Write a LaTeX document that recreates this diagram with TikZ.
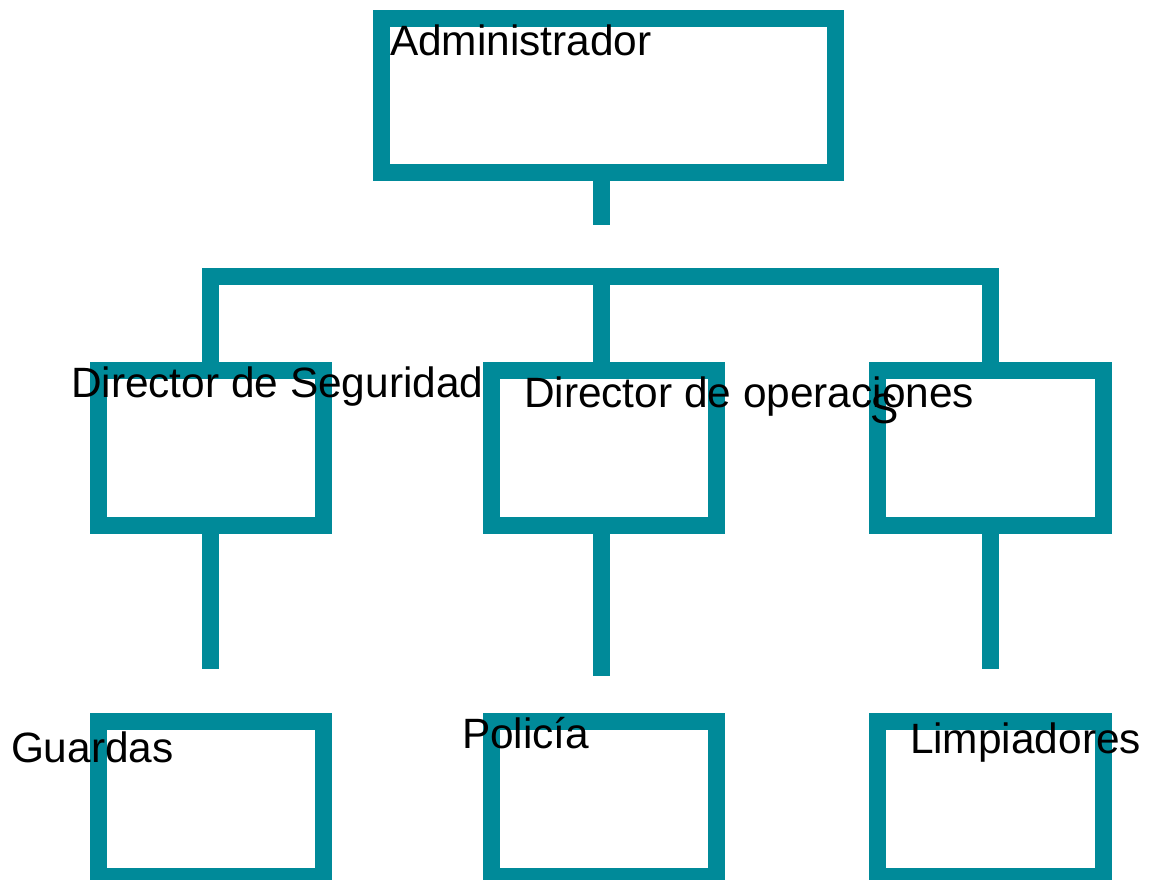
\documentclass[tikz,border=0pt]{standalone}
\usepackage{fontspec}
\setmainfont{Liberation Sans}
\definecolor{teal}{RGB}{0,138,153}
\begin{document}
\begin{tikzpicture}[x=1pt,y=-1pt,
  box/.style={draw=teal,line width=17pt,rectangle,inner sep=0pt,outer sep=0pt,minimum width=225pt,minimum height=155pt},
  conn/.style={draw=teal,line width=17pt,line cap=butt},
  lbl/.style={anchor=base west,inner sep=0pt,outer sep=0pt,font=\fontsize{42.4}{48}\selectfont}]
\useasboundingbox (0,0) rectangle (1149,879);
\clip (0,0) rectangle (1149,879);
% boxes
\node[box,minimum width=454pt,minimum height=154pt] (admin) at (608,95) {};
\node[box] (seg) at (211,448) {};
\node[box] (ops) at (604,448) {};
\node[box,minimum width=226pt] (lim) at (990.5,448) {};
\node[box] (gua) at (211,799) {};
\node[box] (pol) at (604,799) {};
\node[box,minimum width=226pt] (lmp) at (990.5,799) {};
% connector points
\coordinate (a1) at (601,225);
\coordinate (bl) at (210.5,276.5);
\coordinate (bm) at (601,276.5);
\coordinate (br) at (990.5,276.5);
\coordinate (s1) at (210.5,669);
\coordinate (s2) at (601,676);
\coordinate (s3) at (990.5,669);
% connectors
\draw[conn] (admin.south -| a1) -- (a1);
\draw[conn] (seg.north -| bl) -- (bl) -- (br) -- (lim.north -| br);
\draw[conn] (bm) -- (ops.north -| bm);
\draw[conn] (seg.south -| s1) -- (s1);
\draw[conn] (ops.south -| s2) -- (s2);
\draw[conn] (lim.south -| s3) -- (s3);
% labels
\node[lbl] (tadmin) at (390,55) {Administrador};
\node[lbl] (tseg) at (71,397) {Director de Seguridad};
\node[lbl] (tops) at (524,407) {Director de operaciones};
\node[lbl] (ts) at (870,423) {S};
\node[lbl] (tgua) at (11,762) {Guardas};
\node[lbl] (tpol) at (462,748) {Policía};
\node[lbl] (tlmp) at (910,753) {Limpiadores};
\end{tikzpicture}
\end{document}
